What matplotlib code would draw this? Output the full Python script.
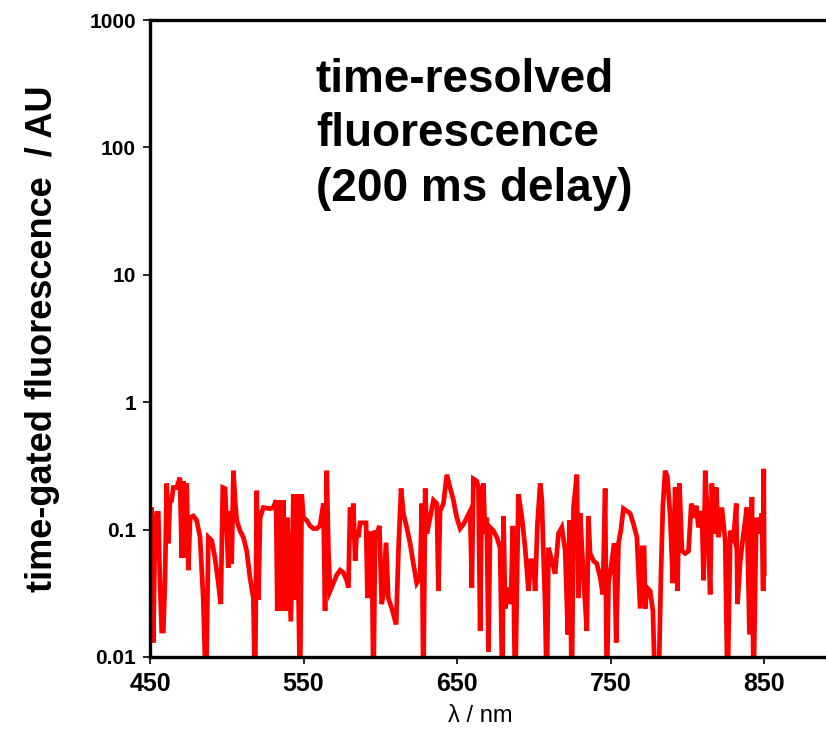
import matplotlib.pyplot as plt
from matplotlib.ticker import FixedLocator, NullLocator

plt.rcParams['font.family'] = ['Liberation Sans', 'DejaVu Sans']

# spectrum (nm, AU); values below 0.01 are off-scale dips
wavelength = [
    450.0, 451.1, 452.1, 453.3, 454.4, 455.4, 456.5, 457.6, 458.7, 459.8,
    460.9, 461.9, 463.0, 464.1, 465.2, 467.4, 469.5, 470.7, 471.7, 472.8,
    473.9, 475.0, 476.1, 478.2, 480.4, 482.6, 484.7, 486.5, 488.0, 490.2,
    492.3, 494.5, 496.1, 497.4, 498.9, 500.0, 501.0, 502.1, 503.2, 504.3,
    505.4, 506.5, 508.6, 510.8, 513.0, 515.1, 517.3, 518.4, 519.5, 520.6,
    521.7, 523.8, 528.2, 530.3, 532.1, 532.9, 534.7, 535.8, 536.8, 538.4,
    539.4, 541.7, 543.4, 544.5, 545.6, 546.6, 547.7, 548.8, 549.9, 552.1,
    554.2, 556.4, 558.6, 560.7, 562.9, 564.0, 565.1, 566.2, 567.3, 569.4,
    571.6, 573.8, 575.9, 578.1, 579.2, 580.3, 581.4, 582.4, 583.6, 584.7,
    585.7, 586.8, 589.0, 590.7, 591.6, 592.9, 594.4, 595.5, 596.6, 598.1,
    599.4, 600.9, 602.0, 603.7, 605.2, 607.5, 610.3, 611.8, 613.5, 615.0,
    617.2, 619.4, 621.5, 623.7, 625.9, 627.0, 628.0, 629.2, 630.3, 632.4,
    634.6, 636.8, 637.8, 638.9, 641.1, 643.3, 645.4, 647.6, 649.8, 652.0,
    654.1, 656.3, 658.5, 659.6, 660.6, 662.8, 663.9, 665.0, 666.1, 667.1,
    668.2, 669.3, 670.4, 671.5, 673.6, 675.9, 678.0, 679.5, 680.2, 681.3,
    682.4, 683.4, 685.0, 686.3, 687.8, 689.9, 692.2, 694.3, 696.5, 698.0,
    699.7, 700.8, 702.3, 704.1, 705.2, 706.2, 707.3, 708.4, 709.5, 711.7,
    713.8, 716.0, 718.2, 720.4, 722.1, 723.2, 724.7, 725.8, 728.0, 729.0,
    730.1, 732.3, 734.5, 735.5, 736.6, 738.8, 741.0, 743.2, 744.9, 746.4,
    747.5, 748.6, 750.8, 752.3, 753.6, 755.1, 756.6, 758.3, 760.5, 762.7,
    764.9, 767.1, 769.2, 770.7, 771.8, 772.5, 773.6, 775.7, 777.5, 779.0,
    781.1, 782.7, 784.0, 785.5, 787.0, 788.8, 790.5, 792.0, 793.5, 794.8,
    796.4, 798.5, 800.7, 802.5, 804.0, 805.7, 807.2, 809.4, 810.5, 811.6,
    813.1, 814.8, 815.9, 817.4, 818.7, 820.2, 822.4, 824.6, 826.1, 827.9,
    830.0, 831.8, 832.6, 834.4, 836.5, 838.7, 840.4, 842.0, 843.0, 844.8,
    846.3, 848.5, 849.3, 849.7, 850.0,
]
intensity = [
    0.09, 0.149, 0.013, 0.098, 0.134, 0.134, 0.038, 0.016, 0.016, 0.042,
    0.23, 0.078, 0.17, 0.17, 0.214, 0.214, 0.256, 0.06, 0.24, 0.06,
    0.23, 0.048, 0.124, 0.128, 0.118, 0.087, 0.028, 0.005, 0.087, 0.082,
    0.06, 0.038, 0.026, 0.214, 0.21, 0.098, 0.05, 0.14, 0.054, 0.29,
    0.17, 0.118, 0.098, 0.087, 0.068, 0.042, 0.029, 0.005, 0.202, 0.028,
    0.124, 0.149, 0.146, 0.149, 0.17, 0.023, 0.17, 0.023, 0.17, 0.023,
    0.124, 0.019, 0.19, 0.028, 0.19, 0.038, 0.005, 0.19, 0.124, 0.118,
    0.107, 0.102, 0.102, 0.107, 0.16, 0.023, 0.29, 0.068, 0.033, 0.038,
    0.044, 0.048, 0.046, 0.04, 0.035, 0.149, 0.087, 0.16, 0.057, 0.098,
    0.087, 0.113, 0.113, 0.113, 0.029, 0.093, 0.093, 0.005, 0.095, 0.095,
    0.107, 0.026, 0.031, 0.079, 0.029, 0.024, 0.018, 0.068, 0.21, 0.134,
    0.104, 0.078, 0.054, 0.038, 0.042, 0.16, 0.005, 0.21, 0.093, 0.124,
    0.17, 0.16, 0.033, 0.14, 0.16, 0.27, 0.214, 0.17, 0.124, 0.102,
    0.11, 0.124, 0.14, 0.035, 0.25, 0.24, 0.214, 0.016, 0.19, 0.23,
    0.093, 0.124, 0.011, 0.104, 0.098, 0.087, 0.072, 0.005, 0.128, 0.024,
    0.031, 0.035, 0.026, 0.107, 0.005, 0.19, 0.124, 0.072, 0.033, 0.057,
    0.057, 0.033, 0.11, 0.23, 0.17, 0.065, 0.026, 0.005, 0.072, 0.057,
    0.045, 0.093, 0.104, 0.068, 0.015, 0.118, 0.005, 0.149, 0.27, 0.029,
    0.134, 0.042, 0.016, 0.128, 0.065, 0.057, 0.054, 0.042, 0.031, 0.21,
    0.005, 0.038, 0.057, 0.078, 0.013, 0.078, 0.098, 0.146, 0.14, 0.134,
    0.11, 0.087, 0.024, 0.072, 0.072, 0.024, 0.035, 0.033, 0.023, 0.005,
    0.005, 0.042, 0.154, 0.29, 0.256, 0.124, 0.038, 0.214, 0.033, 0.23,
    0.068, 0.065, 0.068, 0.16, 0.124, 0.154, 0.104, 0.14, 0.04, 0.29,
    0.124, 0.031, 0.23, 0.093, 0.214, 0.087, 0.149, 0.082, 0.005, 0.098,
    0.085, 0.16, 0.026, 0.057, 0.093, 0.149, 0.015, 0.18, 0.005, 0.124,
    0.093, 0.134, 0.033, 0.30, 0.045,
]

x_ticks = [450, 550, 650, 750, 850]
y_ticks = [0.01, 0.1, 1, 10, 100, 1000]
y_tick_labels = ['0.01', '0.1', '1', '10', '100', '1000']

fig = plt.figure(figsize=(8.26, 7.32), dpi=100)
# right part of the frame runs past the picture edge, as in the original
ax = fig.add_axes([150 / 826, 75 / 732, 691 / 826, 637 / 732])

ax.plot(wavelength, intensity, color='#ff0000', lw=3.4, solid_joinstyle='miter')

ax.set_yscale('log')
ax.set_xlim(450, 900)
ax.set_ylim(0.01, 1000)
ax.xaxis.set_major_locator(FixedLocator(x_ticks))
ax.yaxis.set_major_locator(FixedLocator(y_ticks))
ax.yaxis.set_minor_locator(NullLocator())
ax.set_yticklabels(y_tick_labels)

for side in ['left', 'bottom', 'top']:
    ax.spines[side].set_linewidth(2.4)
ax.spines['right'].set_visible(False)

ax.tick_params(axis='both', direction='out', length=5, width=1.2)
ax.tick_params(axis='y', labelsize=15, pad=5)
ax.tick_params(axis='x', labelsize=18, pad=6)
for lab in ax.get_xticklabels() + ax.get_yticklabels():
    lab.set_fontweight('bold')

ax.set_xlabel('λ / nm', fontsize=17)
ax.xaxis.set_label_coords(0.478, -0.075)
ax.set_ylabel('time-gated fluorescence  / AU', fontsize=26, fontweight='bold')
ax.yaxis.set_label_coords(-0.13, 0.5)

ax.text(0.24, 0.94, 'time-resolved\nfluorescence\n(200 ms delay)',
        transform=ax.transAxes, fontsize=33, fontweight='bold',
        va='top', ha='left', linespacing=1.3)

fig.savefig('out.png', dpi=100)
